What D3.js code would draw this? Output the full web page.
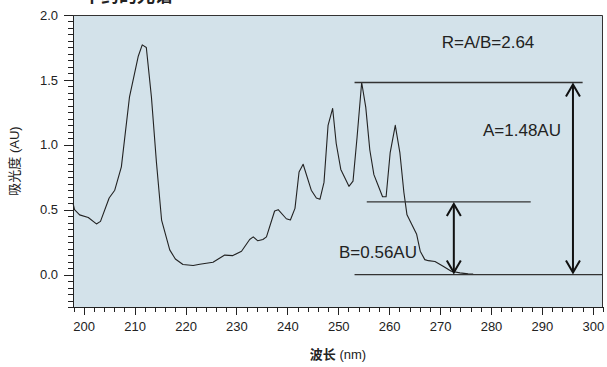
<!DOCTYPE html>
<meta charset="utf-8">
<style>
body { margin: 0; background: #fff; font-family: "Liberation Sans", Arial, sans-serif; }
.axis path, .axis line { fill: none; stroke: #222; shape-rendering: crispEdges; }
.axis text { font-size: 13px; fill: #222; font-family: "Liberation Sans", Arial, sans-serif; }
.note { font-size: 17px; fill: #222; }
</style>
<body>
<script src="https://cdn.jsdelivr.net/npm/d3@7/dist/d3.min.js"></script>
<script>
// spectrum
var wavelength = [197.9, 198.2, 199.2, 200.9, 202.5, 203.3, 205.0, 206.1, 207.4, 209.0,
  210.7, 211.5, 212.3, 213.3, 214.3, 215.3, 216.9, 218.0, 219.5, 221.5,
  222.8, 225.4, 227.7, 229.3, 231.0, 232.6, 233.3, 234.2, 235.2, 235.9,
  237.5, 238.2, 239.8, 240.6, 241.5, 242.3, 243.1, 244.7, 245.7, 246.4,
  247.2, 248.0, 248.9, 249.6, 250.5, 252.1, 252.9, 253.7, 254.6, 255.4,
  256.2, 257.0, 257.8, 258.7, 259.4, 260.2, 261.2, 262.1, 262.9, 263.5,
  264.4, 265.4, 266.1, 267.0, 267.7, 269.0, 270.6, 272.2, 273.9, 275.5, 276.5];
var absorbance = [0.55, 0.50, 0.46, 0.44, 0.39, 0.41, 0.59, 0.65, 0.83, 1.37,
  1.68, 1.77, 1.75, 1.37, 0.86, 0.42, 0.19, 0.12, 0.077, 0.07,
  0.08, 0.095, 0.15, 0.146, 0.18, 0.27, 0.29, 0.26, 0.27, 0.29,
  0.49, 0.50, 0.43, 0.42, 0.51, 0.79, 0.85, 0.65, 0.59, 0.58,
  0.71, 1.15, 1.28, 1.01, 0.81, 0.68, 0.72, 1.06, 1.48, 1.29,
  0.96, 0.77, 0.69, 0.60, 0.60, 0.94, 1.15, 0.94, 0.63, 0.46,
  0.39, 0.31, 0.18, 0.115, 0.107, 0.10, 0.064, 0.025, 0.013, 0.005, 0.003];

var xTicks = [200, 210, 220, 230, 240, 250, 260, 270, 280, 290, 300];
var yTicks = [0.0, 0.5, 1.0, 1.5, 2.0];

// annotation levels (AU) and where the lines / arrows sit (nm)
var levelA = 1.48, levelB = 0.56, levelBase = 0;
var lineA = [253.2, 298.0], lineB = [255.6, 287.8], lineBase = [253.2, 302];
var arrowA = 296.1, arrowB = 272.7;
var ratioText = "R=A/B=2.64", aText = "A=1.48AU", bText = "B=0.56AU";

var W = 607, H = 367;
var margin = {top: 15, right: 4, bottom: 60, left: 73};
var width = W - margin.left - margin.right,
    height = H - margin.top - margin.bottom;

var x = d3.scaleLinear().domain([197.9, 302]).range([0, width]);
var y = d3.scaleLinear().domain([-0.25, 2.0]).range([height, 0]);

var svg = d3.select("body").append("svg")
    .attr("width", W).attr("height", H);

// title, cut off at the very top as in the source
svg.append("text")
    .attr("x", 83).attr("y", 2)
    .attr("font-family", "Noto Sans CJK SC")
    .attr("font-weight", "bold")
    .attr("font-size", 18)
    .attr("fill", "#222")
    .text("中药的光谱");

var g = svg.append("g")
    .attr("transform", "translate(" + margin.left + "," + margin.top + ")");

g.append("rect")
    .attr("width", width).attr("height", height)
    .attr("fill", "#d3e2ea");

// minor ticks
g.append("g")
    .attr("class", "axis")
    .attr("transform", "translate(0," + height + ")")
    .call(d3.axisBottom(x).tickValues(d3.range(198, 303, 2)).tickSize(5).tickFormat(""))
    .call(function(s) { s.select(".domain").remove(); });
g.append("g")
    .attr("class", "axis")
    .call(d3.axisLeft(y).tickValues(d3.range(-0.25, 2.001, 0.05)).tickSize(5).tickFormat(""))
    .call(function(s) { s.select(".domain").remove(); });

// major ticks
g.append("g")
    .attr("class", "axis")
    .attr("transform", "translate(0," + height + ")")
    .call(d3.axisBottom(x).tickValues(xTicks).tickSize(8).tickSizeOuter(0).tickPadding(7).tickFormat(d3.format("d")));
g.append("g")
    .attr("class", "axis")
    .call(d3.axisLeft(y).tickValues(yTicks).tickSize(9).tickSizeOuter(0).tickPadding(6).tickFormat(d3.format(".1f")));

// frame top and right
g.append("path")
    .attr("d", "M0,0.5H" + (width - 0.5) + "V" + height)
    .attr("fill", "none").attr("stroke", "#333");

// spectrum
var line = d3.line()
    .x(function(d, i) { return x(wavelength[i]); })
    .y(function(d) { return y(d); });

g.append("path")
    .datum(absorbance)
    .attr("d", line)
    .attr("fill", "none")
    .attr("stroke", "#222")
    .attr("stroke-width", 1.1)
    .attr("stroke-linejoin", "round");

// reference lines
[[levelA, lineA], [levelB, lineB], [levelBase, lineBase]].forEach(function(r) {
  g.append("line")
      .attr("x1", x(r[1][0])).attr("x2", x(r[1][1]))
      .attr("y1", y(r[0])).attr("y2", y(r[0]))
      .attr("stroke", "#333").attr("stroke-width", 1.3);
});

// double arrows
function dblArrow(nm, top, bottom) {
  var ax = x(nm), y0 = y(top) + 2, y1 = y(bottom) - 2;
  var a = g.append("g").attr("fill", "none").attr("stroke", "#111")
      .attr("stroke-width", 2).attr("stroke-linejoin", "miter");
  a.append("line").attr("x1", ax).attr("x2", ax).attr("y1", y0).attr("y2", y1);
  a.append("path").attr("d", "M" + (ax - 7) + "," + (y0 + 12) + "L" + ax + "," + y0 + "L" + (ax + 7) + "," + (y0 + 12));
  a.append("path").attr("d", "M" + (ax - 7) + "," + (y1 - 12) + "L" + ax + "," + y1 + "L" + (ax + 7) + "," + (y1 - 12));
}
dblArrow(arrowA, levelA, levelBase);
dblArrow(arrowB, levelB, levelBase);

// notes
g.append("text").attr("class", "note")
    .attr("x", 488 - margin.left).attr("y", 48 - margin.top)
    .attr("text-anchor", "middle").text(ratioText);
g.append("text").attr("class", "note")
    .attr("x", 483 - margin.left).attr("y", 136 - margin.top).text(aText);
g.append("text").attr("class", "note")
    .attr("x", 339 - margin.left).attr("y", 258 - margin.top).text(bText);

// axis titles
svg.append("text")
    .attr("transform", "translate(19," + (margin.top + height / 2) + ") rotate(-90)")
    .attr("text-anchor", "middle")
    .attr("font-size", 13).attr("fill", "#222")
    .html('<tspan font-family="Noto Sans CJK SC">吸光度</tspan> (AU)');
svg.append("text")
    .attr("x", margin.left + width / 2).attr("y", 359)
    .attr("text-anchor", "middle")
    .attr("font-size", 13).attr("fill", "#222")
    .html('<tspan font-family="Noto Sans CJK SC" font-weight="bold">波长</tspan> (nm)');
</script>
</body>
